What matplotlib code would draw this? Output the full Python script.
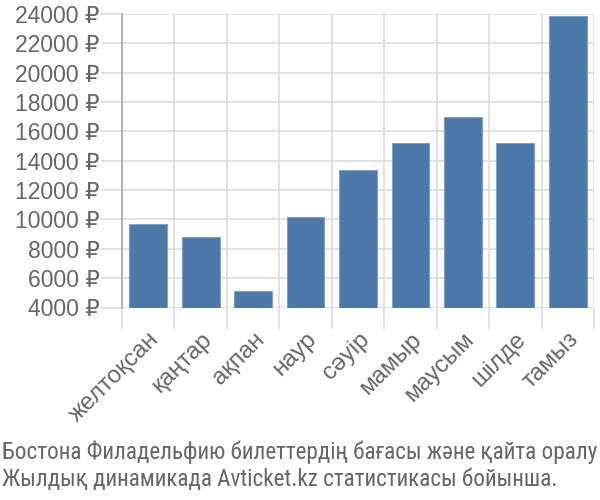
import matplotlib
matplotlib.use("Agg")
import matplotlib.pyplot as plt
import numpy as np

plt.rcParams['font.family'] = ['Liberation Sans', 'DejaVu Sans']

# data
months = ['желтоқсан', 'қаңтар', 'ақпан', 'наур', 'сәуір',
          'мамыр', 'маусым', 'шілде', 'тамыз']
prices = [9700, 8780, 5120, 10150, 13350, 15190, 17000, 15190, 23880]
yticks = list(range(4000, 24001, 2000))
caption = ("Бостона Филадельфию билеттердің бағасы және қайта оралу\n"
           "Жылдық динамикада Avticket.kz статистикасы бойынша.")

TEXT = '#666666'
GRID = '#dddddd'
BAR = '#4c78a8'

fig = plt.figure(figsize=(6, 5), dpi=100)
ax = fig.add_axes([0.2033, 0.385, 0.7867, 0.587])

x = np.arange(len(months))
ax.bar(x, prices, width=0.72, color=BAR, edgecolor='#7f9fc4',
       linewidth=0.8, zorder=3)

ax.set_xlim(-0.5, len(months) - 0.5)
ax.set_ylim(4000, 24000)
ax.set_yticks(yticks)
ax.set_yticklabels([f'{v} ₽' for v in yticks])
ax.set_xticks(np.arange(len(months) + 1) - 0.5)
ax.set_xticklabels([])
ax.set_xticks(x, minor=True)
ax.set_xticklabels(months, minor=True, rotation=45, ha='right',
                   rotation_mode='anchor')

ax.grid(True, which='major', color=GRID, linewidth=1.2, zorder=0)
ax.tick_params(axis='both', which='major', length=15, width=1.2,
               color=GRID, labelcolor=TEXT, labelsize=16.5, pad=1)
ax.tick_params(axis='x', which='minor', length=0, labelcolor=TEXT,
               labelsize=17.5, pad=15)
for s in ['top', 'right', 'bottom']:
    ax.spines[s].set_visible(False)
ax.spines['left'].set_color('#aaaaaa')
ax.spines['left'].set_linewidth(1.2)

fig.text(0.004, 0.018, caption, ha='left', va='bottom', fontsize=16.7,
         color=TEXT, linespacing=1.2,
         family=['Roboto Condensed', 'DejaVu Sans'])

fig.savefig('out.png', dpi=100)
